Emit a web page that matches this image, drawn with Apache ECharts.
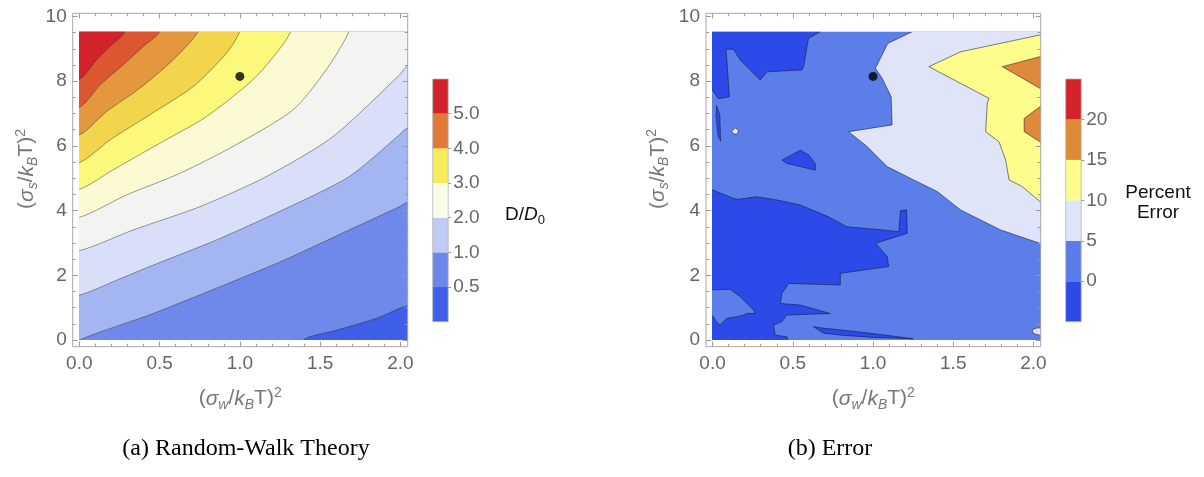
<!DOCTYPE html>
<html>
<head>
<meta charset="utf-8">
<script src="https://cdn.jsdelivr.net/npm/echarts@6/dist/echarts.min.js"></script>
<style>
html, body { margin: 0; padding: 0; background: #fff; }
#chart { width: 1204px; height: 477px; }
</style>
</head>
<body>
<div id="chart"></div>
<script>
// frame ticks
var xMajor = [0, 0.5, 1, 1.5, 2];
var xLabels = ['0.0', '0.5', '1.0', '1.5', '2.0'];
var xMinor = [0.1, 0.2, 0.3, 0.4, 0.6, 0.7, 0.8, 0.9, 1.1, 1.2, 1.3, 1.4, 1.6, 1.7, 1.8, 1.9];
var yMajor = [0, 2, 4, 6, 8, 10];
var yLabels = ['0', '2', '4', '6', '8', '10'];
var yMinor = [0.5, 1, 1.5, 2.5, 3, 3.5, 4.5, 5, 5.5, 6.5, 7, 7.5, 8.5, 9, 9.5];

// (a) contour lines of D/D0, lowest level first
var c05 = [[1.395, 0], [1.6, 0.3], [1.851, 0.67], [2.04, 1.05]];
var c10 = [[0, 0], [0.45, 0.8], [0.853, 1.6], [1.267, 2.45], [1.68, 3.4], [1.993, 4.12], [2.04, 4.24]];
var c15 = [[0, 1.39], [0.233, 1.85], [0.438, 2.27], [0.853, 3.09], [1.267, 4.02], [1.68, 5.05], [1.993, 6.34], [2.04, 6.54]];
var c20 = [[0, 2.76], [0.335, 3.4], [0.75, 4.12], [1.164, 5.05], [1.578, 6.28], [1.993, 8.19], [2.04, 8.44]];
var c25 = [[0, 3.79], [0.293, 4.48], [0.625, 5.15], [0.956, 5.98], [1.33, 7.11], [1.537, 8.35], [1.678, 9.53]];
var c30 = [[0, 4.66], [0.21, 5.26], [0.5, 6.08], [0.79, 6.9], [1.08, 8.04], [1.226, 8.86], [1.315, 9.53]];
var c35 = [[0, 5.48], [0.19, 6.18], [0.438, 6.96], [0.708, 7.83], [0.915, 8.86], [0.998, 9.53]];
var c40 = [[0, 6.34], [0.169, 7.06], [0.376, 7.78], [0.583, 8.66], [0.739, 9.53]];
var c45 = [[0, 7.19], [0.128, 7.88], [0.272, 8.5], [0.397, 9.07], [0.5, 9.53]];
var c50 = [[0, 8.06], [0.107, 8.66], [0.19, 9.07], [0.283, 9.53]];

// (b) percent error regions
var errDarkTop = [[0, 9.53], [0.671, 9.53], [0.598, 9.33], [0.567, 8.45], [0.557, 8.35], [0.339, 8.29], [0.297, 8.04],
    [0.172, 8.66], [0.13, 8.99], [0.084, 8.99], [0.105, 7.52], [0.036, 7.46], [0, 7.73]];
var errDarkSliver = [[0.025, 7.25], [0.045, 6.95], [0.05, 6.15], [0.035, 6.3], [0.022, 6.9]];
var errPaleSpot = [[0.12, 6.45], [0.14, 6.56], [0.165, 6.47], [0.15, 6.36], [0.128, 6.38]];
var errDarkIsland = [[0.432, 5.56], [0.547, 5.87], [0.599, 5.72], [0.64, 5.46], [0.64, 5.25], [0.547, 5.36], [0.463, 5.46]];
var errDarkLow = [[0, 4.64], [0.13, 4.38], [0.161, 4.35], [0.276, 4.43], [0.401, 4.33], [0.547, 4.17], [0.713, 3.83],
    [0.838, 3.5], [1.025, 3.42], [1.161, 3.35], [1.171, 4.0], [1.209, 4.02], [1.213, 3.3], [1.182, 3.25], [1.015, 2.99],
    [1.088, 2.58], [1.098, 2.27], [0.796, 2.06], [0.796, 1.7], [0.474, 1.75], [0.432, 1.44], [0.422, 1.13], [0.547, 1.08],
    [0.734, 0.82], [0.463, 0.77], [0.432, 0.57], [0.38, 0.46], [0.39, 0.15], [0.463, 0.1], [0.47, 0], [0, 0]];
var errMidIsland = [[0, 1.55], [0.109, 1.57], [0.172, 1.34], [0.255, 0.93], [0.266, 0.82], [0.214, 0.82], [0.192, 0.77],
    [0.151, 0.72], [0.089, 0.67], [0.047, 0.46], [0.03, 0.52], [0, 0.75]];
var errDarkBottom = [[0.629, 0.41], [0.7, 0.36], [0.8, 0.31], [1.0, 0.2], [1.25, 0.04], [1.0, 0.08], [0.8, 0.15], [0.692, 0.21]];
var errPale = [[1.244, 9.53], [1.092, 9.17], [1.046, 8.71], [1.015, 8.4], [1.057, 8.09], [1.113, 7.52], [1.119, 6.65],
    [0.848, 6.44], [0.963, 5.98], [1.088, 5.36], [1.213, 5.05], [1.4, 4.59], [1.546, 4.02], [1.796, 3.4], [2.04, 2.99], [2.04, 9.53]];
var errPaleCorner = [[1.99, 0.31], [2.02, 0.37], [2.04, 0.37], [2.04, 0.15], [2.0, 0.2]];
var errYellow = [[2.04, 9.43], [1.546, 8.91], [1.348, 8.45], [1.723, 7.47], [1.712, 7.32], [1.702, 6.44], [1.785, 6.13],
    [1.827, 5.56], [1.848, 4.95], [1.931, 4.74], [2.04, 4.28]];
var errOrangeUp = [[2.04, 8.76], [1.806, 8.45], [2.04, 7.78]];
var errOrangeLow = [[2.04, 7.21], [1.942, 6.85], [1.942, 6.44], [2.04, 6.13]];

// marked point in both panels
var marker = [[1.0, 8.15]];

// colour bar tick labels, bottom to top
var legendALabels = ['0.5', '1.0', '2.0', '3.0', '4.0', '5.0'];
var legendBLabels = ['0', '5', '10', '15', '20'];

var bandColors = ['#3f5fe8', '#6f89eb', '#a4b6f2', '#d9dff8', '#f3f4f2', '#fbfad2', '#fbf87b', '#f2d44d', '#e5973d', '#dc5630', '#d3232a'];
var legendAColors = ['#3f5fe8', '#6a88e9', '#c0cbf4', '#fafbe9', '#f8ec5a', '#e07a36', '#d3222a'];
var errColors = { dark: '#2b4ae8', mid: '#5b7ee9', pale: '#dfe4f8', yellow: '#fdfd8c', orange: '#e0893a' };
var legendBColors = ['#2b4ae8', '#5b7be8', '#dfe4f8', '#fdfd8c', '#e08a38', '#d3222a'];

var contoursA = [c05, c10, c15, c20, c25, c30, c35, c40, c45, c50];
var regionsB = [
    [errDarkTop, 'dark'], [errDarkSliver, 'dark'], [errPaleSpot, 'pale'], [errDarkIsland, 'dark'],
    [errDarkLow, 'dark'], [errMidIsland, 'mid'], [errDarkBottom, 'dark'], [errPale, 'pale'],
    [errPaleCorner, 'pale'], [errYellow, 'yellow'], [errOrangeUp, 'orange'], [errOrangeLow, 'orange']
];

var X_RANGE = [-0.041, 2.045];
var Y_RANGE = [-0.207, 10.1];
var X_DATA = [0, 2.04];
var Y_DATA = [0, 9.53];
var FRAME_A = { left: 72.7, top: 13.3, width: 335, height: 333.4 };
var FRAME_B = { left: 706, top: 13.3, width: 334.7, height: 333.4 };

var FONT = 'Liberation Sans, Arial, sans-serif';
var TICK_COLOR = '#9a9a9a';
var LABEL_COLOR = '#666';
var EPS = 1e-6;

function innerRect(f) {
    var sx = f.width / (X_RANGE[1] - X_RANGE[0]);
    var sy = f.height / (Y_RANGE[1] - Y_RANGE[0]);
    return {
        left: f.left + (X_DATA[0] - X_RANGE[0]) * sx,
        width: (X_DATA[1] - X_DATA[0]) * sx,
        top: f.top + (Y_RANGE[1] - Y_DATA[1]) * sy,
        height: (Y_DATA[1] - Y_DATA[0]) * sy
    };
}

function onEdge(p) {
    return p[0] <= X_DATA[0] + EPS || p[0] >= X_DATA[1] - EPS || p[1] <= Y_DATA[0] + EPS || p[1] >= Y_DATA[1] - EPS;
}

// push a boundary point outside the clip area so its stroke is hidden
function pushOut(p) {
    var dx = 0, dy = 0;
    if (p[0] <= X_DATA[0] + EPS) dx = -0.2; else if (p[0] >= X_DATA[1] - EPS) dx = 0.2;
    if (p[1] <= Y_DATA[0] + EPS) dy = -0.6; else if (p[1] >= Y_DATA[1] - EPS) dy = 0.6;
    return [p[0] + dx, p[1] + dy];
}

function padPolygon(pts) {
    var out = [], n = pts.length;
    for (var i = 0; i < n; i++) {
        var v = pts[i];
        if (!onEdge(v)) { out.push(v); continue; }
        var prev = pts[(i - 1 + n) % n], next = pts[(i + 1) % n];
        if (!onEdge(prev)) out.push(v);
        out.push(pushOut(v));
        if (!onEdge(next)) out.push(v);
    }
    return out;
}

// contour line with both ends carried out past the clip edge
function strokeLine(line) {
    return [pushOut(line[0])].concat(line, [pushOut(line[line.length - 1])]);
}

// region on the high (upper left) side of a contour line
function upperLeft(line) {
    var poly = strokeLine(line);
    var start = line[0], end = line[line.length - 1];
    if (end[0] >= X_DATA[1] - EPS) poly.push(pushOut([X_DATA[1], Y_DATA[1]]));
    poly.push(pushOut([X_DATA[0], Y_DATA[1]]));
    if (start[1] <= Y_DATA[0] + EPS) poly.push(pushOut([X_DATA[0], Y_DATA[0]]));
    return poly;
}

var fullRect = [[X_DATA[0], Y_DATA[0]], [X_DATA[1], Y_DATA[0]], [X_DATA[1], Y_DATA[1]], [X_DATA[0], Y_DATA[1]]];

function px(api, pts) {
    return pts.map(function (p) { return api.coord(p); });
}

var NAME_COLOR = '#777';
var nameRich = {
    p: { fontSize: 21, lineHeight: 26, fontFamily: FONT, color: NAME_COLOR },
    i: { fontSize: 21, lineHeight: 26, fontFamily: FONT, fontStyle: 'italic', color: NAME_COLOR },
    s: { fontSize: 14, lineHeight: 14, fontFamily: FONT, fontStyle: 'italic', verticalAlign: 'bottom', color: NAME_COLOR },
    u: { fontSize: 14, lineHeight: 14, fontFamily: FONT, verticalAlign: 'top', color: NAME_COLOR }
};
var xName = '{p|(}{i|σ}{s|w}{p|/}{i|k}{s|B}{p|T)}{u|2}';
var yName = '{p|(}{i|σ}{s|s}{p|/}{i|k}{s|B}{p|T)}{u|2}';

var grids = [];
var xAxes = [];
var yAxes = [];

function addFramePanel(frame, yNameGap) {
    var gi = grids.length;
    grids.push({ left: frame.left, top: frame.top, width: frame.width, height: frame.height, show: true,
        borderColor: '#a8a8a8', borderWidth: 1, backgroundColor: 'transparent', z: 5, outerBoundsMode: 'none', containLabel: false });
    var tick = function (vals, len) {
        return { show: true, inside: true, length: len, customValues: vals, lineStyle: { color: TICK_COLOR, width: 1 } };
    };
    var baseX = { gridIndex: gi, type: 'value', min: X_RANGE[0], max: X_RANGE[1], z: 6,
        splitLine: { show: false }, axisLine: { show: false, onZero: false } };
    var baseY = { gridIndex: gi, type: 'value', min: Y_RANGE[0], max: Y_RANGE[1], z: 6,
        splitLine: { show: false }, axisLine: { show: false, onZero: false } };
    xAxes.push(Object.assign({}, baseX, {
        position: 'bottom', axisTick: tick(xMajor, 5),
        axisLabel: { customValues: xMajor, margin: 8, color: LABEL_COLOR, fontSize: 19, fontFamily: FONT,
            formatter: function (v) { return xLabels[xMajor.indexOf(v)]; } },
        name: xName, nameLocation: 'middle', nameGap: 39, nameTextStyle: { rich: nameRich }
    }));
    xAxes.push(Object.assign({}, baseX, { position: 'bottom', axisTick: tick(xMinor, 3), axisLabel: { show: false } }));
    xAxes.push(Object.assign({}, baseX, { position: 'top', axisTick: tick(xMajor, 5), axisLabel: { show: false } }));
    xAxes.push(Object.assign({}, baseX, { position: 'top', axisTick: tick(xMinor, 3), axisLabel: { show: false } }));
    yAxes.push(Object.assign({}, baseY, {
        position: 'left', axisTick: tick(yMajor, 5),
        axisLabel: { customValues: yMajor, margin: 6, color: LABEL_COLOR, fontSize: 19, fontFamily: FONT,
            formatter: function (v) { return yLabels[yMajor.indexOf(v)]; } },
        name: yName, nameLocation: 'middle', nameRotate: 90, nameGap: yNameGap,
        nameTextStyle: { rich: nameRich, padding: [0, 0, 0, 22] }
    }));
    yAxes.push(Object.assign({}, baseY, { position: 'left', axisTick: tick(yMinor, 3), axisLabel: { show: false } }));
    yAxes.push(Object.assign({}, baseY, { position: 'right', axisTick: tick(yMajor, 5), axisLabel: { show: false } }));
    yAxes.push(Object.assign({}, baseY, { position: 'right', axisTick: tick(yMinor, 3), axisLabel: { show: false } }));

    // data area: the filled part inside the frame
    var r = innerRect(frame);
    var di = grids.length;
    grids.push({ left: r.left, top: r.top, width: r.width, height: r.height, show: false, outerBoundsMode: 'none', containLabel: false });
    xAxes.push({ gridIndex: di, type: 'value', min: X_DATA[0], max: X_DATA[1], show: false });
    yAxes.push({ gridIndex: di, type: 'value', min: Y_DATA[0], max: Y_DATA[1], show: false });
    return { xi: xAxes.length - 1, yi: yAxes.length - 1 };
}

function addColorBar(left, count, labels) {
    var gi = grids.length;
    grids.push({ left: left, top: 79, width: 15.5, height: 242.7, show: true, borderColor: '#b5b5b5', borderWidth: 0.8,
        backgroundColor: 'transparent', z: 5, outerBoundsMode: 'none', containLabel: false });
    var vals = labels.map(function (l, k) { return k + 1; });
    xAxes.push({ gridIndex: gi, type: 'value', min: 0, max: 1, show: false });
    yAxes.push({ gridIndex: gi, type: 'value', min: 0, max: count, position: 'right', z: 6,
        splitLine: { show: false }, axisLine: { show: false, onZero: false },
        axisTick: { show: true, inside: false, length: 3, customValues: vals, lineStyle: { color: TICK_COLOR } },
        axisLabel: { customValues: vals, margin: 5, color: LABEL_COLOR, fontSize: 19, fontFamily: FONT,
            formatter: function (v) { return labels[Math.round(v) - 1]; } } });
    return { xi: xAxes.length - 1, yi: yAxes.length - 1 };
}

var axA = addFramePanel(FRAME_A, 33);
var axB = addFramePanel(FRAME_B, 35);
var barA = addColorBar(432.7, legendAColors.length, legendALabels);
var barB = addColorBar(1065.7, legendBColors.length, legendBLabels);

var LINE_A = 'rgba(40,40,40,0.45)';
var LINE_B = 'rgba(20,20,50,0.6)';
var SMOOTH_A = 0.25;

var series = [];

// (a) filled bands, then contour line on top of each
series.push({
    type: 'custom', xAxisIndex: axA.xi, yAxisIndex: axA.yi, clip: true,
    data: bandColors.map(function (c, k) { return [k, 0]; }),
    renderItem: function (params, api) {
        var k = params.dataIndex;
        if (k === 0) {
            return { type: 'polygon', shape: { points: px(api, fullRect.map(pushOut)) }, style: { fill: bandColors[0] } };
        }
        var line = contoursA[k - 1];
        return { type: 'group', children: [
            { type: 'polygon', shape: { points: px(api, upperLeft(line)), smooth: SMOOTH_A }, style: { fill: bandColors[k] } },
            { type: 'polyline', shape: { points: px(api, strokeLine(line)), smooth: SMOOTH_A },
                style: { stroke: LINE_A, lineWidth: 1, fill: 'none' } }
        ] };
    }
});

// (b) base band and regions
series.push({
    type: 'custom', xAxisIndex: axB.xi, yAxisIndex: axB.yi, clip: true,
    data: [[0, 0]].concat(regionsB.map(function (r, k) { return [k + 1, 0]; })),
    renderItem: function (params, api) {
        var k = params.dataIndex;
        if (k === 0) {
            return { type: 'polygon', shape: { points: px(api, fullRect.map(pushOut)) }, style: { fill: errColors.mid } };
        }
        var reg = regionsB[k - 1];
        return { type: 'polygon', shape: { points: px(api, padPolygon(reg[0])) },
            style: { fill: errColors[reg[1]], stroke: LINE_B, lineWidth: 0.9 } };
    }
});

[axA, axB].forEach(function (ax) {
    series.push({ type: 'scatter', xAxisIndex: ax.xi, yAxisIndex: ax.yi, data: marker, symbolSize: 9,
        itemStyle: { color: '#000' }, silent: true, z: 4 });
});

function barSeries(ax, colors) {
    return {
        type: 'custom', xAxisIndex: ax.xi, yAxisIndex: ax.yi,
        data: colors.map(function (c, k) { return [0, k]; }),
        renderItem: function (params, api) {
            var k = params.dataIndex;
            var p0 = api.coord([0, k + 1]), p1 = api.coord([1, k]);
            return { type: 'rect', shape: { x: p0[0], y: p0[1], width: p1[0] - p0[0], height: p1[1] - p0[1] },
                style: { fill: colors[k] } };
        }
    };
}
series.push(barSeries(barA, legendAColors));
series.push(barSeries(barB, legendBColors));

var chart = echarts.init(document.getElementById('chart'), null, { renderer: 'canvas' });
chart.setOption({
    animation: false,
    backgroundColor: '#fff',
    grid: grids,
    xAxis: xAxes,
    yAxis: yAxes,
    series: series,
    graphic: [
        { type: 'text', x: 505, y: 215, style: { text: '{n|D/}{i|D}{s|0}', verticalAlign: 'middle',
            rich: { n: { fontSize: 19, lineHeight: 24, fontFamily: FONT, fill: '#111' },
                    i: { fontSize: 19, lineHeight: 24, fontFamily: FONT, fontStyle: 'italic', fill: '#111' },
                    s: { fontSize: 13, lineHeight: 13, fontFamily: FONT, verticalAlign: 'bottom', fill: '#111' } } } },
        { type: 'text', x: 1158, y: 203, style: { text: 'Percent\nError', align: 'center', verticalAlign: 'middle',
            fontSize: 19, lineHeight: 20, fontFamily: FONT, fill: '#111' } },
        { type: 'text', x: 246, y: 449, style: { text: '(a) Random-Walk Theory', align: 'center', verticalAlign: 'middle',
            fontSize: 24, fontFamily: 'Liberation Serif, DejaVu Serif, serif', fill: '#000' } },
        { type: 'text', x: 830, y: 449, style: { text: '(b) Error', align: 'center', verticalAlign: 'middle',
            fontSize: 24, fontFamily: 'Liberation Serif, DejaVu Serif, serif', fill: '#000' } }
    ]
});
</script>
</body>
</html>
